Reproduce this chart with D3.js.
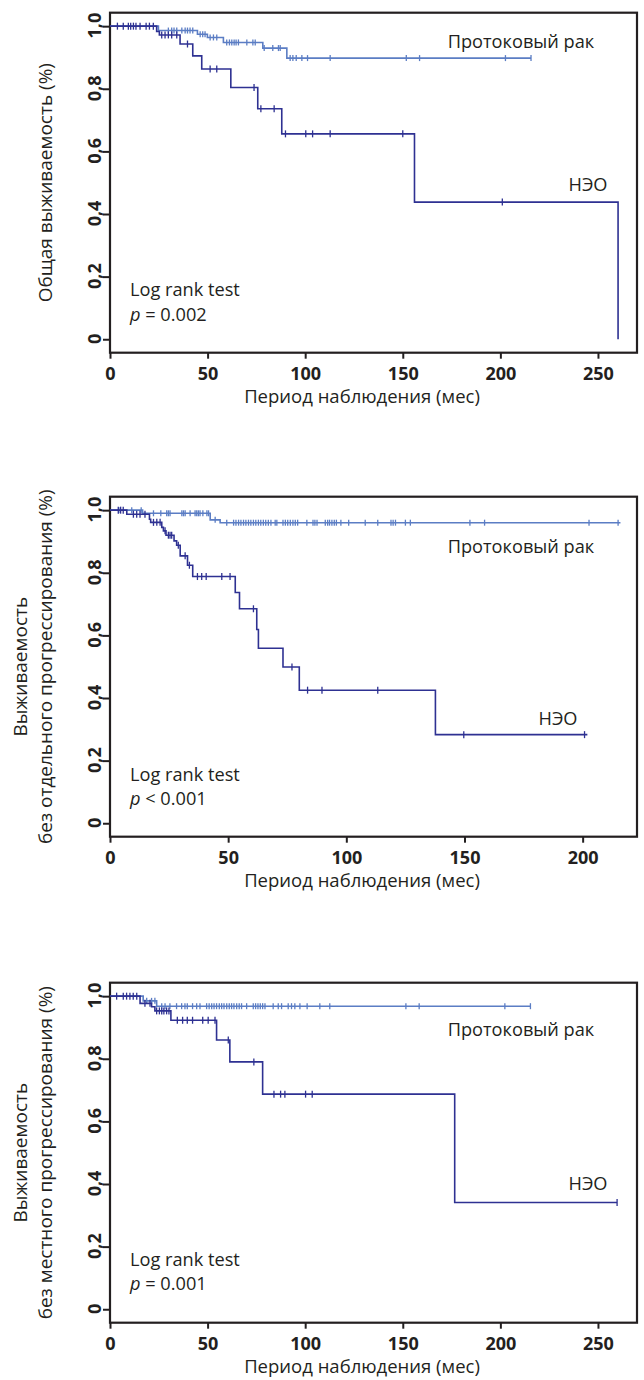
<!DOCTYPE html>
<html>
<head>
<meta charset="utf-8">
<script src="https://cdn.jsdelivr.net/npm/d3@7"></script>
<style>
  html, body { margin: 0; padding: 0; background: #fff; }
  svg { display: block; }
</style>
</head>
<body>
<svg id="chart" width="644" height="1380"></svg>
<script>
// ---------------- DATA ----------------
const seriesNames = ["Протоковый рак", "НЭО"];
const xTitle = "Период наблюдения (мес)";
const yTitles = [
  ["Общая выживаемость (%)"],
  ["Выживаемость", "без отдельного прогрессирования (%)"],
  ["Выживаемость", "без местного прогрессирования (%)"]
];
const testLabel = "Log rank test";
const pLabels = ["= 0.002", "< 0.001", "= 0.001"];
const xTickSets = [[0, 50, 100, 150, 200, 250], [0, 50, 100, 150, 200], [0, 50, 100, 150, 200, 250]];
const yTickValues = [0, 0.2, 0.4, 0.6, 0.8, 1.0];
const xMaxes = [270, 223, 270];

// Panel 1 — overall survival
const p1DuctTimes = [24.8, 44.8, 49.9, 58.1, 78.3, 90.6];
const p1DuctSurv = [0.986, 0.974, 0.964, 0.948, 0.930, 0.898];
const p1DuctEnd = 215.7;
const p1DuctCensor = [29.9, 31.6, 32.8, 34.2, 36.8, 38.5, 39.7, 41, 42.4, 46.2, 47.5, 48.7, 51.3, 53, 54.7,
  59.8, 61.2, 62.4, 63.6, 64.6, 65.8, 70.1, 73.2, 74.4, 79, 83.4, 86.3, 87.2, 92.3, 93.7, 95.4, 98.3,
  101.2, 112.8, 151.8, 158.6, 202.6, 215.7];
const p1NeoTimes = [23.9, 25.3, 35.9, 42.4, 47, 61.9, 75.7, 88, 156, 260.3];
const p1NeoSurv = [0.983, 0.972, 0.943, 0.905, 0.863, 0.804, 0.736, 0.656, 0.438, 0];
const p1NeoEnd = 260.3;
const p1NeoCensor = [3.8, 6.8, 9.4, 10.6, 12, 13.3, 15.4, 18.5, 20.2, 22.2, 26.5, 28.2, 29.9, 31.6, 34.2,
  39.7, 51.3, 54.7, 73.8, 77.3, 84.1, 89.9, 100.3, 103.8, 112.8, 150, 201];

// Panel 2 — distant progression-free survival
const p2DuctTimes = [13.8, 42.4, 46.6];
const p2DuctSurv = [0.990, 0.969, 0.960];
const p2DuctEnd = 216;
const p2DuctCensor = [3.8, 9.2, 13.2, 18.4, 21.5, 24, 24.7, 25.4, 30.4, 31.1, 31.8, 33.9, 36, 36.7, 37.4,
  38.1, 39.3, 41, 41.7, 44.5, 49.4, 52.3, 53.3, 54.4, 55.4, 56.5, 57.5, 58.6, 59.6, 60.7, 61.7, 62.8,
  63.8, 64.9, 65.9, 67.0, 68.1, 69.9, 70.6, 73.2, 74.2, 75.2, 76.3, 77.4, 78.4, 79.4, 83.3, 85.9, 86.7,
  87.6, 91.1, 92.1, 92.9, 93.9, 94.9, 95.8, 97.7, 101, 108, 113.3, 118.9, 119.8, 120.8, 125, 127.1,
  152.3, 158.5, 202.7, 215];
const p2NeoTimes = [7.1, 16.7, 17.2, 21.9, 22.6, 23.7, 27.1, 28.2, 29.7, 32.8, 35, 53, 54.8, 62.1, 62.8,
  73.2, 80.1, 137.7];
const p2NeoSurv = [0.987, 0.971, 0.961, 0.945, 0.934, 0.920, 0.902, 0.888, 0.854, 0.824, 0.788, 0.737,
  0.685, 0.619, 0.559, 0.499, 0.425, 0.283];
const p2NeoEnd = 202;
const p2NeoCensor = [3.5, 4.5, 5.6, 9.9, 11.3, 12.7, 14.8, 18.4, 19.8, 21.2, 23.3, 24.7, 25.4, 26.1, 28.9,
  31.8, 33.6, 37, 38.8, 40.7, 47.3, 50.8, 60.7, 77, 83.6, 89.7, 113.3, 149.7, 200.8];

// Panel 3 — local progression-free survival
const p3DuctTimes = [17, 23.9];
const p3DuctSurv = [0.985, 0.968];
const p3DuctEnd = 215.4;
const p3DuctCensor = [18.8, 21.3, 23, 26.5, 28.2, 30.7, 34.1, 36.7, 38.4, 39.6, 42.3, 44.4, 46.1, 49.5,
  50.8, 52.1, 53.3, 54.6, 56, 57.2, 58.4, 59.8, 61.1, 62.3, 63.5, 64.9, 66.2, 67.4, 70, 73.4, 74.6,
  75.8, 77, 78.2, 79.4, 83.6, 86.2, 87.9, 91.3, 93, 94.7, 97.3, 101, 107.5, 112.6, 151.6, 158.4,
  202.3, 215.4];
const p3NeoTimes = [15.4, 21.3, 23, 31.2, 54.6, 61.4, 78.2, 176.6];
const p3NeoSurv = [0.977, 0.966, 0.953, 0.923, 0.860, 0.790, 0.687, 0.341];
const p3NeoEnd = 259.8;
const p3NeoCensor = [3.4, 6.8, 8.5, 10.2, 11.9, 13.7, 17.9, 20.5, 23.9, 25.3, 26.5, 27.6, 29, 30.2, 34.5,
  37.2, 39.6, 42.3, 47.5, 50.3, 53.8, 60.6, 73.7, 84, 87.4, 89.6, 100.2, 103.6, 259.8];

// ---------------- LAYOUT ----------------
const FONT = "'Open Sans', 'Noto Sans', sans-serif";
const DARK = "#2e3192";
const LIGHT = "#5b7dc4";
const INK = "#231f20";
const plotLeft = 110, plotRight = 637, plotH = 340;
const panelTops = [12.7, 496.7, 982.7];
const ductLabelXY = [[521, 48], [521, 552.7], [521, 1036]];
const neoLabelXY = [[588, 191], [558, 725], [588, 1190]];
const testXY = [[130, 296.4], [130, 780.7], [130, 1266]];

const panels = [
  { duct: [p1DuctTimes, p1DuctSurv, p1DuctEnd, p1DuctCensor], neo: [p1NeoTimes, p1NeoSurv, p1NeoEnd, p1NeoCensor] },
  { duct: [p2DuctTimes, p2DuctSurv, p2DuctEnd, p2DuctCensor], neo: [p2NeoTimes, p2NeoSurv, p2NeoEnd, p2NeoCensor] },
  { duct: [p3DuctTimes, p3DuctSurv, p3DuctEnd, p3DuctCensor], neo: [p3NeoTimes, p3NeoSurv, p3NeoEnd, p3NeoCensor] }
];

const svg = d3.select("#chart");
svg.append("rect").attr("width", 644).attr("height", 1380).attr("fill", "#fff");

function survAt(times, surv, t) {
  let s = 1;
  for (let i = 0; i < times.length; i++) if (times[i] <= t) s = surv[i];
  return s;
}

panels.forEach((p, i) => {
  const top = panelTops[i];
  const x = d3.scaleLinear().domain([0, xMaxes[i]]).range([plotLeft, plotRight]);
  const y = d3.scaleLinear().domain([-0.043, 1.043]).range([top + plotH, top]);
  const g = svg.append("g");

  // axes
  const yAxis = d3.axisLeft(y).tickValues(yTickValues).tickSize(7).tickSizeOuter(0)
    .tickFormat(d => d === 0 ? "0" : d3.format(".1f")(d).replace(".", ","));
  const ya = g.append("g").attr("transform", `translate(${plotLeft},0)`).call(yAxis);
  ya.select(".domain").remove();
  ya.selectAll(".tick line").attr("stroke", INK).attr("stroke-width", 2);
  ya.selectAll(".tick text")
    .attr("x", null).attr("dy", null).attr("y", null)
    .attr("transform", "translate(-9,-1) rotate(-90)")
    .attr("text-anchor", "middle")
    .attr("font-family", FONT).attr("font-weight", "bold").attr("font-size", 18).attr("fill", INK);

  const xAxis = d3.axisBottom(x).tickValues(xTickSets[i]).tickSize(6).tickSizeOuter(0);
  const xa = g.append("g").attr("transform", `translate(0,${top + plotH})`).call(xAxis);
  xa.select(".domain").remove();
  xa.selectAll(".tick line").attr("stroke", INK).attr("stroke-width", 2);
  xa.selectAll(".tick text").attr("y", 27).attr("dy", null)
    .attr("font-family", FONT).attr("font-weight", "bold").attr("font-size", 18).attr("fill", INK);

  // frame
  g.append("rect").attr("x", plotLeft).attr("y", top).attr("width", plotRight - plotLeft).attr("height", plotH)
    .attr("fill", "none").attr("stroke", INK).attr("stroke-width", 2.2);

  // axis titles
  g.append("text").attr("x", 362).attr("y", top + plotH + 50.5).attr("text-anchor", "middle")
    .attr("font-family", FONT).attr("font-size", 18.5).attr("fill", INK).text(xTitle);
  const cy = top + plotH / 2;
  const lines = yTitles[i];
  const bases = lines.length === 1 ? [51.5] : [27, 51.5];
  lines.forEach((ln, k) => {
    g.append("text").attr("transform", `translate(${bases[k]},${cy}) rotate(-90)`).attr("text-anchor", "middle")
      .attr("font-family", FONT).attr("font-size", 19).attr("fill", INK).text(ln);
  });

  // curves
  const line = d3.line().x(d => x(d[0])).y(d => y(d[1])).curve(d3.curveStepAfter);
  [["duct", LIGHT, 3], ["neo", DARK, 3.5]].forEach(([key, col, h]) => {
    const [times, surv, end, cens] = p[key];
    const pts = [[0, 1]];
    times.forEach((t, k) => pts.push([t, surv[k]]));
    pts.push([end, surv[surv.length - 1]]);
    g.append("path").datum(pts).attr("d", line).attr("fill", "none")
      .attr("stroke", col).attr("stroke-width", 1.6);
    g.selectAll(null).data(cens).enter().append("line")
      .attr("x1", d => x(d)).attr("x2", d => x(d))
      .attr("y1", d => y(survAt(times, surv, d)) - h)
      .attr("y2", d => y(survAt(times, surv, d)) + h)
      .attr("stroke", col).attr("stroke-width", 1.3);
  });

  // series labels
  g.append("text").attr("x", ductLabelXY[i][0]).attr("y", ductLabelXY[i][1]).attr("text-anchor", "middle")
    .attr("font-family", FONT).attr("font-size", 18.2).attr("fill", INK).text(seriesNames[0]);
  g.append("text").attr("x", neoLabelXY[i][0]).attr("y", neoLabelXY[i][1]).attr("text-anchor", "middle")
    .attr("font-family", FONT).attr("font-size", 18.2).attr("fill", INK).text(seriesNames[1]);

  // test annotation
  g.append("text").attr("x", testXY[i][0]).attr("y", testXY[i][1])
    .attr("font-family", FONT).attr("font-size", 18.2).attr("fill", INK).text(testLabel);
  const pt = g.append("text").attr("x", testXY[i][0]).attr("y", testXY[i][1] + 24.3)
    .attr("font-family", FONT).attr("font-size", 18.2).attr("fill", INK);
  pt.append("tspan").attr("font-style", "italic").text("p");
  pt.append("tspan").text(" " + pLabels[i]);
});
</script>
</body>
</html>
